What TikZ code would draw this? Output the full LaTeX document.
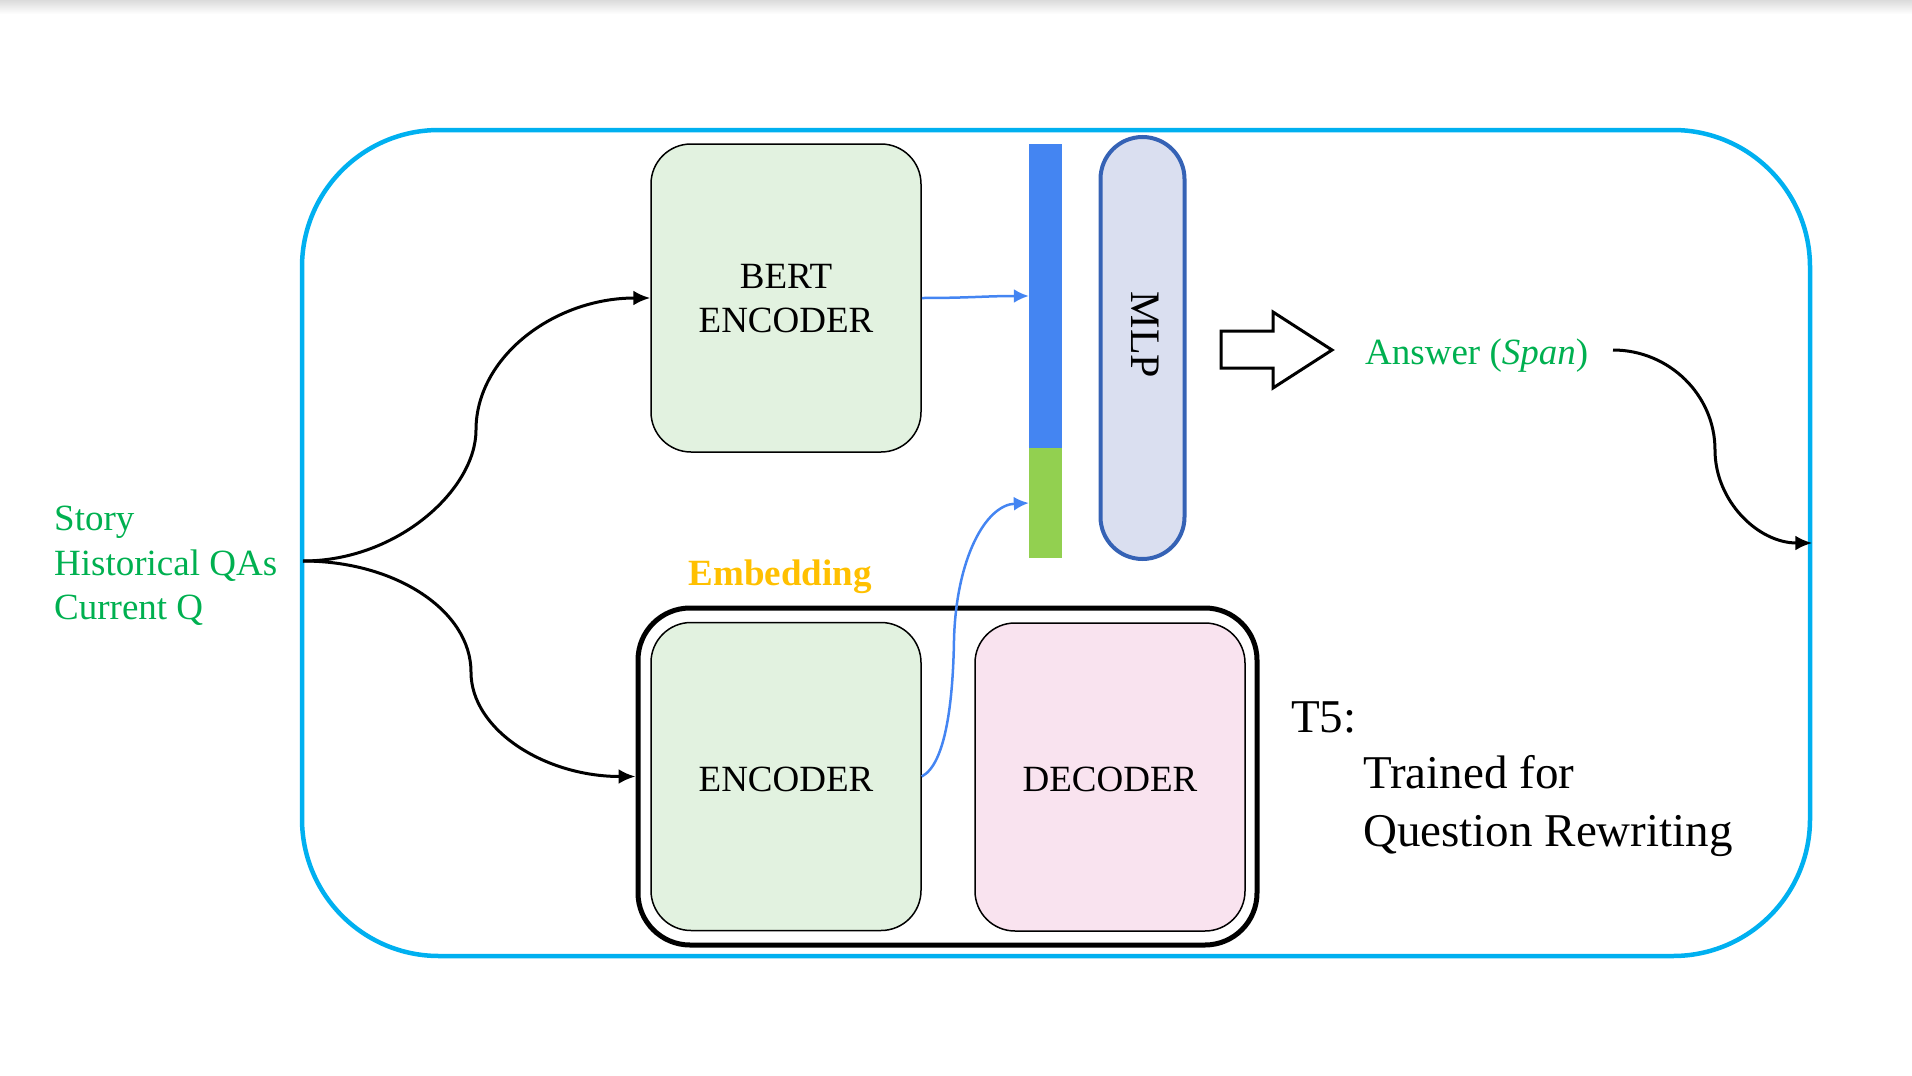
\documentclass[tikz,border=0pt]{standalone}
\usepackage{fontspec}
\setmainfont{Liberation Serif}
\usetikzlibrary{arrows.meta}
\definecolor{frameblue}{HTML}{00B0F0}
\definecolor{barblue}{HTML}{4485F2}
\definecolor{bargreen}{HTML}{92D050}
\definecolor{txtgreen}{HTML}{00B050}
\definecolor{txtorange}{HTML}{FFC000}
\definecolor{boxgreen}{HTML}{E2F2E0}
\definecolor{boxpink}{HTML}{F9E3EF}
\definecolor{mlpfill}{HTML}{DADFF0}
\definecolor{mlpline}{HTML}{3562B5}
\newcommand\lblfont{\fontsize{37}{44}\selectfont}
\newcommand\bigfont{\fontsize{47}{56}\selectfont}
\newcommand\pushdown[2]{\raisebox{0pt}[\dimexpr\height+#1\relax][\depth]{#2}}
\begin{document}
\begin{tikzpicture}[x=1pt,y=-1pt,
  box/.style={draw=black, line width=1.5pt, rounded corners=40pt, minimum width=270pt, minimum height=308pt, inner sep=0pt, font=\lblfont, align=center},
  blk/.style={draw=black, line width=3pt, -{Latex[length=17pt,width=15pt]}},
  blu/.style={draw=barblue, line width=2.5pt, -{Latex[length=15pt,width=14pt]}},
  txt/.style={inner sep=0pt, font=\lblfont},
]
\useasboundingbox (0,0) rectangle (1912,1076);
\fill[top color=black!14, bottom color=white] (0,0) rectangle (1912,14);

% outer frame
\node[draw=frameblue, line width=4.5pt, rounded corners=137pt, minimum width=1508pt, minimum height=826pt, inner sep=0pt] (frame) at (1056,543) {};

% BERT encoder
\node[box, fill=boxgreen] (bert) at (786,298) {\pushdown{8pt}{\begin{tabular}{@{}c@{}}BERT\\ENCODER\end{tabular}}};

% embedding bar
\node[fill=barblue, minimum width=33pt, minimum height=304pt, inner sep=0pt] (barb) at (1045.5,296) {};
\node[fill=bargreen, minimum width=33pt, minimum height=110pt, inner sep=0pt] (barg) at (1045.5,503) {};

% MLP
\node[draw=mlpline, fill=mlpfill, line width=4pt, rounded corners=42pt, minimum width=84pt, minimum height=422pt, inner sep=0pt] (mlp) at (1142.5,348) {};
\node[txt, font=\fontsize{42}{50}\selectfont, rotate=-90] (mlptxt) at (1145,335) {MLP};

% hollow arrow
\draw[line width=3pt, fill=white, line join=miter] (1221,331) -- (1273,331) -- (1273,312) -- (1332,350) -- (1273,388) -- (1273,368) -- (1221,368) -- cycle;

% answer
\node[txt, text=txtgreen, anchor=base west] (answer) at (1365,364) {Answer (\textit{Span})};
\coordinate (ansstart) at (1613,350);

% inputs
\node[txt, text=txtgreen, anchor=base west] (in1) at (54,530) {Story};
\node[txt, text=txtgreen, anchor=base west] (in2) at (54,575) {Historical QAs};
\node[txt, text=txtgreen, anchor=base west] (in3) at (54,619) {Current Q};
\coordinate (fork) at (303,561);

% T5
\node[draw=black, line width=5pt, rounded corners=52pt, minimum width=619pt, minimum height=337pt, inner sep=0pt] (t5) at (947.5,776.5) {};
\node[box, fill=boxgreen] (enc) at (786,776.5) {\pushdown{5pt}{ENCODER}};
\node[box, fill=boxpink] (dec) at (1110,777) {\pushdown{5pt}{DECODER}};

\node[txt, text=txtorange, font=\lblfont\bfseries, anchor=base] (emb) at (780,585) {Embedding};

\node[txt, font=\bigfont, anchor=base west] (t5a) at (1291,732) {T5:};
\node[txt, font=\bigfont, anchor=base west] (t5b) at (1363,788) {Trained for};
\node[txt, font=\bigfont, anchor=base west] (t5c) at (1363,846) {Question Rewriting};

% connectors
\draw[blk] (fork) .. controls (398,561) and (476,489) .. (476,430) .. controls (476,357) and (554,298) .. (bert.west);
\draw[blk] (fork) .. controls (396,561) and (471,611) .. (471,672) .. controls (471,730) and (545,776.5) .. (t5.west);
\draw[blu] (bert.east) .. controls (970,298) and (985,296) .. (barb.west);
\draw[blu] (enc.east) .. controls (946,764) and (953,700) .. (954,640) .. controls (956,560) and (985,505) .. (barg.west);
\draw[blk] (ansstart) .. controls (1669,350) and (1715,395) .. (1715,450) .. controls (1715,501) and (1758,543) .. (frame.east);
\end{tikzpicture}
\end{document}
